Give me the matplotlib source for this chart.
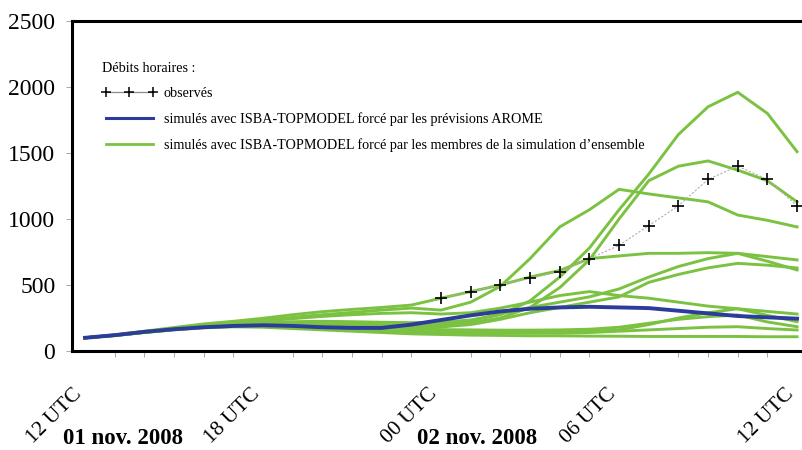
import numpy as np
import matplotlib
matplotlib.use("Agg")
import matplotlib.pyplot as plt
from matplotlib.lines import Line2D
import matplotlib.transforms as mtransforms

plt.rcParams['font.family'] = ['Liberation Serif', 'DejaVu Serif']

# hours since 01 nov. 2008 12 UTC
hours = np.arange(0, 25)
tick_hours = [0, 6, 12, 18, 24]
tick_labels = ["12 UTC", "18 UTC", "00 UTC", "06 UTC", "12 UTC"]
date_labels = ["01 nov. 2008", "02 nov. 2008"]
date_pos = [-0.74, 11.2]

# observed hourly discharge (from 00 UTC)
obs_hours = np.arange(12, 25)
observed = [400, 450, 500, 550, 600, 700, 800, 950, 1100, 1300, 1400, 1300, 1100]

# AROME forced simulation
arome = [100, 120, 145, 165, 180, 190, 195, 190, 180, 175, 175, 200, 235,
         270, 300, 320, 330, 335, 330, 325, 305, 285, 265, 255, 245]

# ensemble members
g1 = [100, 120, 145, 168, 190, 205, 215, 222, 225, 222, 218, 215, 218,
      235, 275, 380, 560, 780, 1070, 1340, 1640, 1850, 1960, 1800, 1510]
g2 = [100, 120, 145, 168, 188, 200, 208, 210, 208, 204, 200, 198, 200,
      215, 250, 330, 480, 690, 1000, 1290, 1400, 1440, 1370, 1290, 1130]
g3 = [100, 121, 147, 172, 196, 212, 232, 255, 275, 292, 310, 325, 310,
      370, 490, 700, 940, 1070, 1225, 1190, 1160, 1130, 1030, 990, 940]
g4 = [100, 122, 150, 178, 205, 225, 248, 275, 298, 315, 330, 348, 400,
      450, 500, 560, 610, 700, 720, 740, 740, 745, 740, 715, 690]
g5 = [100, 118, 143, 166, 185, 195, 200, 202, 198, 194, 190, 190, 200,
      230, 280, 330, 370, 410, 470, 560, 640, 700, 740, 680, 614]
g6 = [100, 118, 142, 165, 183, 193, 197, 196, 192, 187, 182, 178, 182,
      200, 240, 290, 330, 370, 410, 520, 580, 630, 664, 650, 629]
g7 = [100, 120, 146, 170, 192, 208, 225, 245, 262, 275, 285, 290, 280,
      290, 325, 370, 420, 450, 420, 400, 370, 340, 320, 300, 280]
g8 = [100, 118, 142, 163, 180, 190, 190, 185, 175, 165, 155, 150, 145,
      145, 145, 145, 148, 150, 160, 200, 250, 290, 320, 270, 222]
g9 = [100, 118, 141, 162, 178, 186, 185, 180, 170, 160, 150, 145, 140,
      138, 135, 135, 135, 140, 150, 160, 170, 180, 184, 170, 159]
g10 = [100, 117, 140, 160, 176, 183, 180, 170, 160, 150, 140, 130, 125,
       120, 118, 115, 115, 113, 112, 110, 110, 110, 110, 108, 108]
g11 = [100, 118, 142, 164, 182, 192, 196, 196, 192, 184, 175, 168, 162,
       160, 158, 158, 160, 165, 180, 210, 240, 260, 273, 220, 184]
members = [g1, g2, g3, g4, g5, g6, g7, g8, g9, g10, g11]

green = '#7cc242'
blue = '#2b3c9b'

fig = plt.figure(figsize=(8.03, 4.5), dpi=100)
ax = fig.add_axes([72/803, 99/450, 739/803, 330/450])

for m in members:
    ax.plot(hours, m, color=green, lw=2.1, zorder=2)
ax.plot(hours, arome, color=blue, lw=2.8, zorder=3)
ax.plot(obs_hours, observed, color='#b8aab8', lw=0.8, ls=(0, (2, 1.5)),
        marker='+', ms=9, mec='black', mew=1.2, zorder=4)

ax.set_xlim(-0.44, 24.47)
ax.set_ylim(0, 2500)
ax.set_yticks([0, 500, 1000, 1500, 2000, 2500])
ax.set_xticks(tick_hours)
ax.set_xticklabels(tick_labels, rotation=45, ha='right', va='top',
                   rotation_mode='anchor')
ax.set_xticks(hours, minor=True)
ax.tick_params(axis='y', labelsize=17, length=4, width=0.6, color='#999999', pad=8)
ax.tick_params(axis='x', which='major', labelsize=15.5, length=0, pad=24)
ax.tick_params(axis='x', which='minor', length=4, width=0.6, color='#999999')
offs = mtransforms.ScaledTranslation(-13/100, 0, fig.dpi_scale_trans)
for lab in ax.get_xticklabels():
    lab.set_transform(lab.get_transform() + offs)

for s in ['left', 'bottom', 'top']:
    ax.spines[s].set_linewidth(2.2)
ax.spines['right'].set_visible(False)

trans = mtransforms.blended_transform_factory(ax.transData, ax.transAxes)
for lbl, xp in zip(date_labels, date_pos):
    ax.text(xp, -0.265, lbl, transform=trans, ha='left', va='center',
            fontsize=16.5, fontweight='bold', clip_on=False)

handles = [
    Line2D([], [], color='#8a8a8a', lw=0.9, marker='+', ms=7.5, mec='black', mew=1.1),
    Line2D([], [], color=blue, lw=2.2),
    Line2D([], [], color=green, lw=2.0),
]
labels = ["observés",
          "simulés avec ISBA-TOPMODEL forcé par les prévisions AROME",
          "simulés avec ISBA-TOPMODEL forcé par les membres de la simulation d\u2019ensemble"]
leg = ax.legend(handles, labels, title="Débits horaires :", loc='upper left',
                bbox_to_anchor=(0.04, 0.875), frameon=False, fontsize=10.2,
                title_fontsize=10.2, numpoints=3, handlelength=3.9,
                handletextpad=0.5, labelspacing=0.85, borderpad=0,
                borderaxespad=0, alignment='left')

fig.savefig('out.png', dpi=100)
